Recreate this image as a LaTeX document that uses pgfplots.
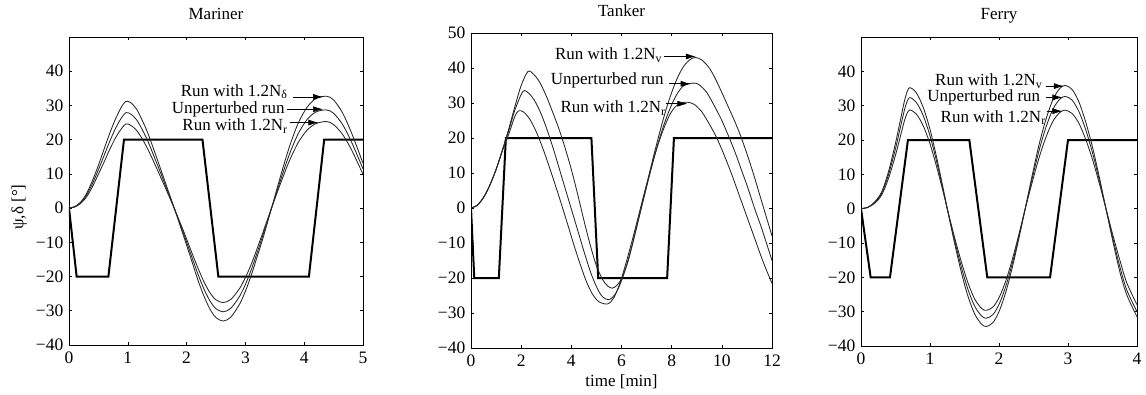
\documentclass[border=0pt]{standalone}
\usepackage{fontspec}
\setmainfont{Liberation Serif}
\usepackage{pgfplots}
\pgfplotsset{compat=1.18}
\usetikzlibrary{arrows.meta}

\newcommand{\bigf}{\fontsize{17}{17}\selectfont}
\newcommand{\tickf}{\fontsize{17.5}{17.5}\selectfont}
\newcommand{\annf}{\fontsize{17}{17}\selectfont}
\pgfplotsset{
  ship/.style={
    scale only axis,
    axis line style={line width=0.8pt},
    tick align=inside,
    major tick length=3pt,
    tick style={line width=0.6pt, black},
    xtick pos=both, ytick pos=both,
    xticklabel pos=lower, yticklabel pos=left,
    ymin=-40, ymax=50,
    tick label style={font=\tickf},
    label style={font=\bigf},
    yticklabel style={anchor=east, inner sep=0pt, xshift=-5.5pt},
    xticklabel style={anchor=base, inner sep=0pt, yshift=-18.5pt},
    title style={font=\bigf, at={(axis description cs:0.5,1)}, anchor=base, yshift=11.5pt, inner sep=0pt},
    clip=true,
  },
}
\tikzset{
  psi/.style={line width=0.85pt, smooth, color=black!85},
  rud/.style={line width=2pt, black, sharp plot},
  arr/.style={-{Latex[length=10pt,width=6pt]}, line width=0.7pt, black},
  lab/.style={anchor=base east, inner sep=0pt, font=\annf},
}

\begin{document}
\begin{tikzpicture}[x=1pt,y=1pt,font=\bigf]
\useasboundingbox (0,0) rectangle (1146,394);

% ---------------- Mariner ----------------
\begin{axis}[ship,
  at={(69pt,49pt)}, anchor=south west,
  width=294pt, height=308pt,
  xmin=0, xmax=5,
  xtick={0,1,2,3,4,5}, xticklabels={0,1,2,3,4,5},
  ytick={-40,-30,-20,-10,0,10,20,30,40},
  yticklabels={−40,−30,−20,−10,0,10,20,30,40},
  title={Mariner},
  ylabel={ψ,δ [°]},
  ylabel style={at={(axis description cs:-0.155,0.448)}, anchor=base, inner sep=0pt},
]
\addplot[rud] coordinates {(0,0)(0.13,-20)(0.67,-20)(0.935,20)(2.27,20)(2.54,-20)(4.08,-20)(4.34,20)(5,20)};
% Run with 1.2 N_delta
\addplot[psi] coordinates {(0,0)(0.1,0.45)(0.2,1.8)(0.3,4.3)(0.4,8.1)(0.5,12.5)(0.6,17.4)(0.7,22.2)(0.8,26.4)(0.9,29.8)(0.97,31.2)(1.05,30.8)(1.15,28.9)(1.25,25.5)(1.35,21.5)(1.5,14.3)(1.65,6.9)(1.8,-0.5)(1.95,-8.2)(2.1,-16.1)(2.2,-21.4)(2.3,-25.9)(2.4,-29.6)(2.5,-32.0)(2.62,-33.0)(2.75,-31.9)(2.9,-28.1)(3.0,-24.3)(3.1,-19.6)(3.2,-14.2)(3.3,-8.7)(3.45,0.3)(3.6,9.5)(3.75,18.0)(3.9,24.9)(4.05,29.5)(4.2,32.0)(4.38,32.7)(4.5,31.6)(4.65,27.9)(4.8,22.2)(5.0,13.1)};
% Unperturbed
\addplot[psi] coordinates {(0,0)(0.1,0.4)(0.2,1.6)(0.3,3.8)(0.4,7.2)(0.5,11.2)(0.6,15.5)(0.7,19.8)(0.8,23.6)(0.9,26.6)(0.97,27.9)(1.05,27.5)(1.15,25.8)(1.25,22.8)(1.35,19.2)(1.5,12.8)(1.65,6.2)(1.8,-0.5)(1.95,-7.5)(2.1,-14.8)(2.2,-19.6)(2.3,-23.8)(2.4,-27.2)(2.5,-29.4)(2.62,-30.3)(2.75,-29.3)(2.9,-25.8)(3.0,-22.3)(3.1,-18)(3.2,-13)(3.3,-7.8)(3.45,0.3)(3.6,8.3)(3.75,15.8)(3.9,21.8)(4.05,25.9)(4.2,28.1)(4.38,28.7)(4.5,27.7)(4.65,24.5)(4.8,19.5)(5.0,11.5)};
% Run with 1.2 N_r
\addplot[psi] coordinates {(0,0)(0.1,0.35)(0.2,1.4)(0.3,3.3)(0.4,6.3)(0.5,9.9)(0.6,13.6)(0.7,17.4)(0.8,20.8)(0.9,23.4)(0.97,24.6)(1.05,24.2)(1.15,22.7)(1.25,20.1)(1.35,16.9)(1.5,11.3)(1.65,5.5)(1.8,-0.5)(1.95,-6.8)(2.1,-13.5)(2.2,-17.8)(2.3,-21.7)(2.4,-24.8)(2.5,-26.8)(2.62,-27.6)(2.75,-26.7)(2.9,-23.5)(3.0,-20.3)(3.1,-16.4)(3.2,-11.8)(3.3,-7.0)(3.45,0.3)(3.6,7.3)(3.75,13.9)(3.9,19.2)(4.05,22.8)(4.2,24.7)(4.38,25.3)(4.5,24.4)(4.65,21.6)(4.8,17.2)(5.0,9.9)};
\node[lab] at (axis cs:3.72,32.7) {Run with 1.2N\textsubscript{δ}};
\node[lab] at (axis cs:3.67,27.7) {Unperturbed run};
\node[lab] at (axis cs:3.72,22.6) {Run with 1.2N\textsubscript{r}};
\draw[arr] (axis cs:3.81,32.5) -- (axis cs:4.32,32.5);
\draw[arr] (axis cs:3.70,28.9) -- (axis cs:4.32,28.9);
\draw[arr] (axis cs:3.76,25.0) -- (axis cs:4.24,25.0);
\end{axis}

% ---------------- Tanker ----------------
\begin{axis}[ship,
  at={(471pt,46pt)}, anchor=south west,
  width=301pt, height=315pt,
  xmin=0, xmax=12,
  xtick={0,2,4,6,8,10,12}, xticklabels={0,2,4,6,8,10,12},
  ytick={-40,-30,-20,-10,0,10,20,30,40,50},
  yticklabels={−40,−30,−20,−10,0,10,20,30,40,50},
  title={Tanker},
  title style={yshift=-1pt},
  xlabel={time [min]},
  xlabel style={at={(axis description cs:0.5,0)}, anchor=base, yshift=-38.5pt, inner sep=0pt},
]
\addplot[rud] coordinates {(0,0)(0.13,-20)(1.11,-20)(1.39,20)(4.8,20)(5.07,-20)(7.82,-20)(8.09,20)(12,20)};
% Run with 1.2 N_v
\addplot[psi] coordinates {(0,0)(0.25,0.8)(0.5,3)(0.75,6.5)(1.0,11)(1.25,16.5)(1.5,22.5)(1.75,29)(2.0,35)(2.27,39)(2.5,38.2)(2.75,35.8)(3.0,32)(3.25,27.5)(3.5,22.7)(3.75,17.2)(4.0,11)(4.25,4)(4.5,-3.5)(4.75,-10.5)(5.0,-16.5)(5.25,-20.5)(5.45,-22.3)(5.63,-22.9)(5.8,-22.2)(6.0,-20.2)(6.25,-15.5)(6.5,-8.5)(6.75,-1)(7.0,6.5)(7.25,14)(7.5,21)(7.75,27.5)(8.0,33)(8.25,37.5)(8.5,40.7)(8.75,42.5)(8.95,43)(9.2,42.3)(9.5,40)(9.75,36.8)(10.0,33)(10.25,29)(10.5,25)(10.75,20.6)(11.0,15.5)(11.25,10)(11.5,4)(11.75,-2)(12.0,-8)};
% Unperturbed
\addplot[psi] coordinates {(0,0)(0.25,0.8)(0.5,3)(0.75,6.5)(1.0,11)(1.25,16.5)(1.5,22)(1.75,28)(2.07,33.3)(2.3,32.8)(2.55,30.5)(2.8,26.8)(3.05,22)(3.3,16.5)(3.55,10.5)(3.8,4.5)(4.05,-1.5)(4.3,-7.5)(4.55,-13.5)(4.8,-19)(5.05,-23.2)(5.25,-25.4)(5.5,-26.2)(5.75,-24.6)(6.0,-20.8)(6.25,-15.2)(6.5,-8.5)(6.75,-1.2)(7.0,6)(7.25,13)(7.5,19.5)(7.75,25)(8.0,29.5)(8.25,33)(8.5,35)(8.88,35.7)(9.1,35.2)(9.4,33)(9.7,29.2)(10.0,25)(10.3,20)(10.55,15.5)(10.8,10.5)(11.05,5.5)(11.3,0)(11.55,-5)(11.8,-10.5)(12.0,-15)};
% Run with 1.2 N_r
\addplot[psi] coordinates {(0,0)(0.25,0.8)(0.5,3)(0.75,6.5)(1.0,11)(1.25,16.3)(1.5,21)(1.75,26.2)(1.91,27.8)(2.1,27.4)(2.35,25.3)(2.6,21.8)(2.85,17.3)(3.1,12.2)(3.35,6.8)(3.6,1.2)(3.85,-4.6)(4.1,-10.5)(4.35,-16)(4.6,-21)(4.85,-24.7)(5.1,-26.8)(5.45,-27.4)(5.7,-25.6)(5.95,-21.2)(6.2,-15.2)(6.45,-8.6)(6.7,-1.6)(6.95,5.4)(7.2,12)(7.45,18)(7.7,23)(7.95,27)(8.2,29.3)(8.45,30.1)(8.65,30.2)(8.9,29.6)(9.2,27.5)(9.5,24)(9.8,20)(10.1,15)(10.4,9.5)(10.7,3.5)(11.0,-2.5)(11.3,-8.5)(11.6,-14.5)(11.85,-19)(12.0,-21.5)};
\node[lab] at (axis cs:7.63,42.4) {Run with 1.2N\textsubscript{v}};
\node[lab] at (axis cs:7.69,35.2) {Unperturbed run};
\node[lab] at (axis cs:7.77,27.3) {Run with 1.2N\textsubscript{r}};
\draw[arr] (axis cs:7.70,43.3) -- (axis cs:8.96,43.3);
\draw[arr] (axis cs:7.90,35.5) -- (axis cs:8.76,35.5);
\draw[arr] (axis cs:7.77,29.8) -- (axis cs:8.63,29.8);
\end{axis}

% ---------------- Ferry ----------------
\begin{axis}[ship,
  at={(861pt,48pt)}, anchor=south west,
  width=276pt, height=309pt,
  xmin=0, xmax=4,
  xtick={0,1,2,3,4}, xticklabels={0,1,2,3,4},
  ytick={-40,-30,-20,-10,0,10,20,30,40},
  yticklabels={−40,−30,−20,−10,0,10,20,30,40},
  title={Ferry},
]
\addplot[rud] coordinates {(0,0)(0.14,-20)(0.42,-20)(0.68,20)(1.57,20)(1.83,-20)(2.74,-20)(3.0,20)(4,20)};
% Run with 1.2 N_v
\addplot[psi] coordinates {(0,0)(0.1,0.4)(0.2,2.0)(0.3,4.9)(0.4,10.9)(0.5,19.1)(0.58,26.7)(0.64,32.2)(0.7,35.2)(0.8,33.8)(0.9,29.6)(1.0,23.1)(1.1,14.6)(1.2,5.0)(1.25,0)(1.35,-9.5)(1.45,-18.2)(1.55,-25.5)(1.65,-30.8)(1.75,-33.7)(1.82,-34.3)(1.92,-33.0)(2.02,-29.0)(2.12,-22.8)(2.22,-14.8)(2.32,-5.7)(2.38,0)(2.48,9.6)(2.58,18.6)(2.68,26.0)(2.78,31.7)(2.88,35.0)(2.96,35.9)(3.06,34.7)(3.16,31.0)(3.26,25.0)(3.36,17.5)(3.46,8.6)(3.55,0)(3.65,-9.5)(3.75,-18.3)(3.85,-25.0)(4.0,-31.5)};
% Unperturbed
\addplot[psi] coordinates {(0,0)(0.1,0.4)(0.2,1.8)(0.3,4.5)(0.4,10)(0.5,17.5)(0.58,24.5)(0.64,29.5)(0.7,32.3)(0.8,31.0)(0.9,27.2)(1.0,21.2)(1.1,13.4)(1.2,4.6)(1.25,0)(1.35,-8.7)(1.45,-16.7)(1.55,-23.5)(1.65,-28.5)(1.75,-31.3)(1.82,-31.9)(1.92,-30.7)(2.02,-27.0)(2.12,-21.2)(2.22,-13.8)(2.32,-5.3)(2.38,0)(2.48,8.7)(2.58,16.9)(2.68,23.7)(2.78,28.9)(2.88,31.9)(2.96,32.7)(3.06,31.6)(3.16,28.2)(3.26,22.8)(3.36,15.9)(3.46,7.8)(3.55,0)(3.65,-8.7)(3.75,-16.8)(3.85,-23.6)(4.0,-30.0)};
% Run with 1.2 N_r
\addplot[psi] coordinates {(0,0)(0.1,0.4)(0.2,1.6)(0.3,4.0)(0.4,8.9)(0.5,15.6)(0.58,21.8)(0.64,26.3)(0.7,28.7)(0.8,27.6)(0.9,24.2)(1.0,18.9)(1.1,11.9)(1.2,4.1)(1.25,0)(1.35,-7.9)(1.45,-15.2)(1.55,-21.6)(1.65,-26.4)(1.75,-29.1)(1.82,-29.6)(1.92,-28.5)(2.02,-25.1)(2.12,-19.7)(2.22,-12.8)(2.32,-4.9)(2.38,0)(2.48,7.6)(2.58,14.8)(2.68,20.8)(2.78,25.4)(2.88,28.0)(2.96,28.7)(3.06,27.7)(3.16,24.8)(3.26,20.0)(3.36,14.0)(3.46,6.9)(3.55,0)(3.65,-7.7)(3.75,-14.9)(3.85,-21.5)(4.0,-28.0)};
\node[lab] at (axis cs:2.63,35.9) {Run with 1.2N\textsubscript{v}};
\node[lab] at (axis cs:2.60,31.1) {Unperturbed run};
\node[lab] at (axis cs:2.68,25.2) {Run with 1.2N\textsubscript{r}};
\draw[arr] (axis cs:2.68,35.7) -- (axis cs:2.94,35.7);
\draw[arr] (axis cs:2.68,32.4) -- (axis cs:2.92,32.4);
\draw[arr] (axis cs:2.69,28.4) -- (axis cs:2.92,28.4);
\end{axis}
\end{tikzpicture}
\end{document}
